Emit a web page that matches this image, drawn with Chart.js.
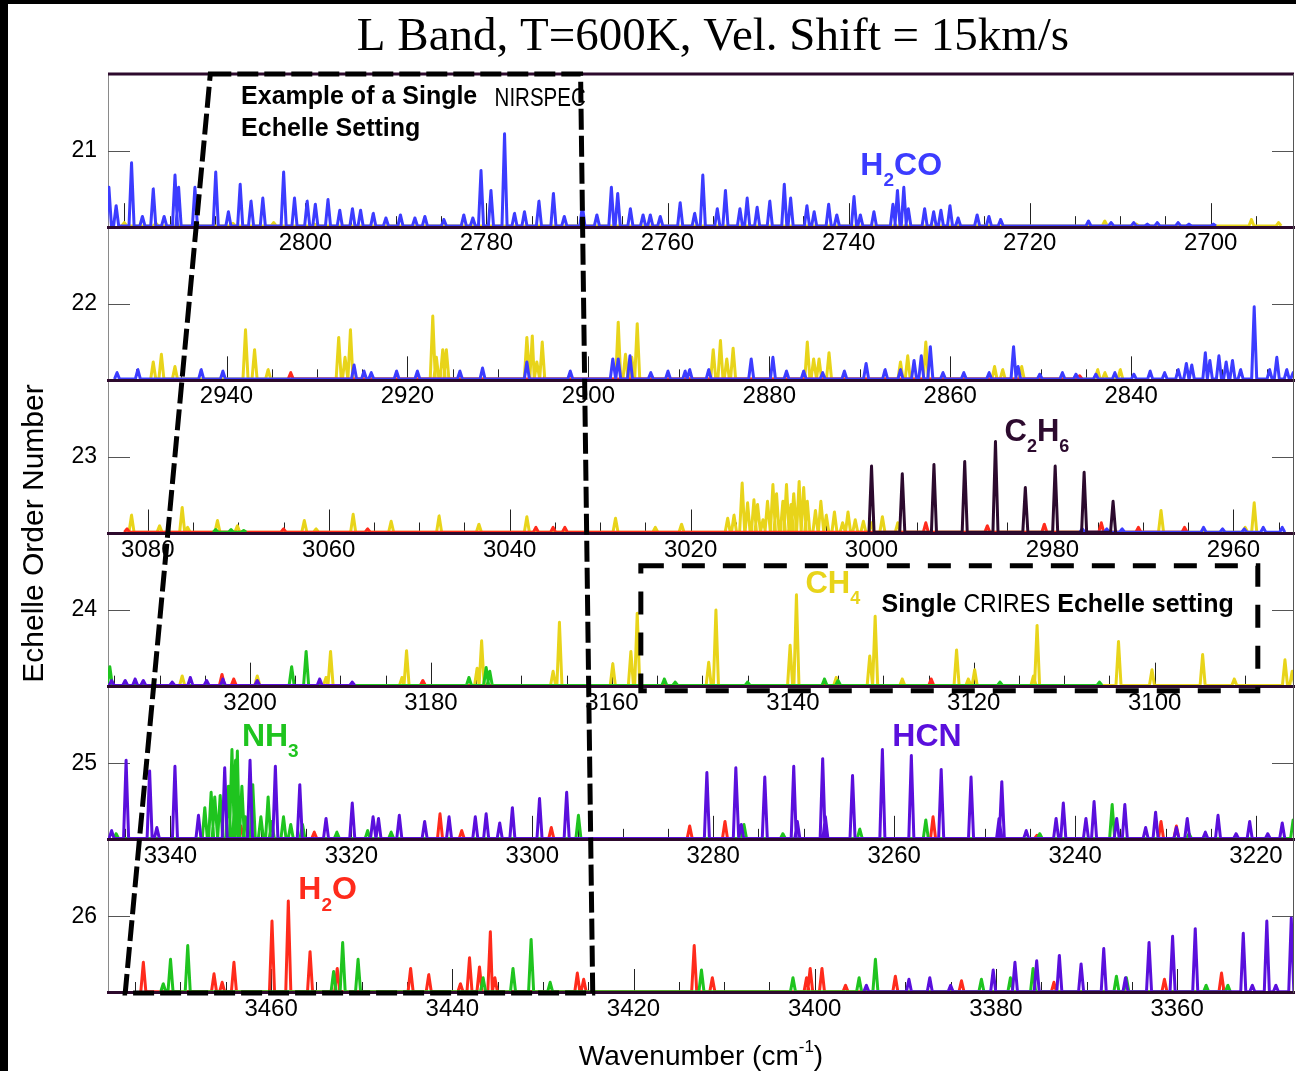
<!DOCTYPE html>
<html>
<head>
<meta charset="utf-8">
<title>L Band echelle orders</title>
<script src="https://cdn.jsdelivr.net/npm/chart.js@4.4.1/dist/chart.umd.min.js"></script>
<style>
  html, body { margin: 0; padding: 0; background: #fff; }
  #echelleCanvas { display: block; }
</style>
</head>
<body>
<canvas id="echelleCanvas" width="1296" height="1071"></canvas>
<script>
// echelle orders, top to bottom, and the wavenumber span (cm-1) each one covers
const orders = [21, 22, 23, 24, 25, 26];
const orderRanges = [[2690.8, 2821.8], [2822.0, 2953.1], [2953.3, 3084.4], [3084.6, 3215.7], [3215.8, 3346.9], [3347.1, 3478.0]];
const minorStep = 5;
const labelStep = 20;

// line peaks: [wavenumber, height as a fraction of the order panel]
// order 21
const h2co21 = [[2821.7,.26],[2820.9,.14],[2819.2,.42],[2818.0,.07],[2816.8,.25],[2815.6,.07],[2814.4,.34],[2814.0,.26],[2812.2,.26],[2809.9,.36],[2808.5,.10],[2807.2,.28],[2806.0,.17],[2804.7,.19],[2802.4,.36],[2801.2,.19],[2799.8,.17],[2798.9,.15],[2797.5,.18],[2796.2,.11],[2794.8,.12],[2793.9,.11],[2792.5,.09],[2791.1,.06],[2789.5,.08],[2787.9,.06],[2786.8,.07],[2784.7,.05],[2782.5,.08],[2781.5,.06],[2780.6,.37],[2779.5,.24],[2778.0,.61],[2776.9,.09],[2775.8,.10],[2774.2,.17],[2772.6,.22],[2771.4,.07],[2769.4,.14],[2767.8,.08],[2766.2,.26],[2765.5,.22],[2764.1,.12],[2762.7,.08],[2761.9,.08],[2760.8,.07],[2758.6,.16],[2757.0,.09],[2756.1,.34],[2754.5,.12],[2753.6,.24],[2752.0,.12],[2751.2,.19],[2750.1,.13],[2748.7,.17],[2747.1,.28],[2746.4,.19],[2744.6,.14],[2743.8,.10],[2742.2,.15],[2741.3,.08],[2739.4,.20],[2738.7,.08],[2737.2,.10],[2735.1,.15],[2734.6,.24],[2733.9,.26],[2733.4,.12],[2731.6,.12],[2730.6,.10],[2729.8,.11],[2728.8,.14],[2727.9,.06],[2725.8,.08],[2724.5,.07],[2723.2,.05],[2713.5,.04],[2711.0,.03],[2708.5,.03],[2707.0,.02],[2705.9,.03],[2703.6,.03],[2702.4,.02],[2699.7,.02]];
const ch4_21 = [[2820.0,.03],[2816.5,.025],[2812.0,.03],[2808.0,.025],[2803.5,.03],[2799.0,.02],[2711.7,.04],[2708.2,.02],[2695.5,.05],[2692.5,.03]];

// order 22
const h2co22 = [[2952.1,.05],[2949.8,.07],[2942.8,.07],[2940.4,.06],[2925.9,.10],[2924.8,.06],[2924.0,.05],[2921.2,.06],[2918.9,.06],[2914.2,.06],[2911.7,.08],[2906.8,.12],[2902.0,.06],[2897.3,.14],[2896.7,.14],[2895.4,.16],[2893.1,.05],[2891.2,.06],[2889.3,.06],[2888.8,.07],[2886.7,.07],[2882.0,.14],[2879.6,.15],[2878.1,.06],[2876.2,.06],[2874.1,.05],[2871.7,.06],[2869.3,.11],[2867.2,.07],[2865.5,.07],[2864.0,.13],[2863.2,.16],[2862.2,.22],[2860.8,.05],[2858.5,.05],[2855.7,.05],[2853.0,.22],[2852.5,.09],[2850.1,.04],[2847.6,.05],[2846.1,.04],[2843.9,.04],[2841.8,.05],[2839.7,.04],[2837.9,.06],[2836.3,.05],[2834.8,.07],[2833.9,.11],[2833.3,.10],[2831.8,.18],[2831.3,.13],[2830.3,.16],[2829.5,.12],[2828.8,.13],[2827.9,.07],[2826.4,.48],[2824.7,.07],[2823.9,.15],[2822.8,.07],[2822.1,.05]];
const ch4_22 = [[2948.1,.12],[2947.2,.17],[2945.7,.09],[2937.9,.33],[2936.9,.20],[2935.4,.07],[2927.6,.28],[2926.9,.15],[2926.3,.33],[2917.2,.42],[2916.8,.15],[2916.1,.20],[2915.7,.20],[2906.8,.28],[2906.2,.29],[2905.7,.12],[2905.1,.25],[2896.7,.38],[2895.9,.17],[2895.2,.15],[2894.6,.37],[2886.2,.20],[2885.4,.26],[2884.7,.14],[2884.0,.21],[2875.8,.25],[2875.1,.14],[2874.5,.14],[2873.4,.18],[2865.5,.12],[2864.7,.16],[2862.7,.25],[2855.1,.09],[2854.2,.07],[2852.1,.09],[2843.7,.07],[2842.9,.05],[2841.2,.07]];
const h2o22 = [[2932.9,.05],[2845.7,.03]];

// order 23
const ch4_23 = [[3081.8,.12],[3078.7,.05],[3076.2,.17],[3075.6,.04],[3072.3,.085],[3070.1,.05],[3062.7,.085],[3061.4,.03],[3057.3,.125],[3053.1,.08],[3047.8,.115],[3043.4,.06],[3038.1,.11],[3028.3,.10],[3023.9,.04],[3021.0,.06],[3015.9,.10],[3015.2,.12],[3014.3,.33],[3013.7,.20],[3013.0,.22],[3012.6,.19],[3012.0,.09],[3011.5,.21],[3010.9,.32],[3010.5,.26],[3009.8,.21],[3009.4,.32],[3008.9,.19],[3008.6,.26],[3008.0,.34],[3007.5,.30],[3007.1,.21],[3006.2,.15],[3005.6,.21],[3005.0,.12],[3004.1,.14],[3003.2,.07],[3002.6,.14],[3001.8,.09],[3000.9,.08],[3000.0,.07],[2998.8,.11],[2997.1,.07],[2968.0,.15],[2958.7,.04],[2957.7,.20]];
const c2h6_23 = [[3000.0,.44],[2996.6,.39],[2993.1,.45],[2989.7,.47],[2986.3,.60],[2983.0,.30],[2979.7,.44],[2976.5,.40],[2973.3,.21]];
const h2o23 = [[3082.3,.03],[3065.0,.03],[3055.7,.03],[3037.1,.04],[3035.2,.04],[3033.9,.04],[2994.0,.07],[2987.2,.05],[2980.9,.06],[2974.6,.07],[2970.5,.04],[2965.4,.04]];
const h2co23 = [[2976.7,.03],[2974.0,.03],[2972.3,.03],[2963.3,.04],[2961.2,.03],[2958.8,.03],[2956.7,.04],[2954.6,.04]];
const nh3_23 = [[3072.5,.025],[3070.8,.025],[3069.4,.02]];

// order 24
const ch4_24 = [[3207.5,.07],[3199.2,.07],[3191.6,.06],[3191.1,.23],[3183.2,.06],[3182.7,.235],[3174.9,.12],[3174.4,.30],[3166.5,.10],[3165.8,.42],[3159.9,.15],[3157.9,.23],[3157.2,.48],[3149.3,.16],[3148.5,.50],[3140.3,.27],[3139.6,.60],[3135.2,.06],[3131.5,.20],[3130.9,.46],[3127.9,.05],[3121.9,.24],[3120.6,.05],[3119.9,.11],[3113.4,.07],[3113.0,.40],[3104.0,.295],[3100.3,.11],[3094.7,.21],[3091.2,.05],[3085.6,.175],[3084.8,.10]];
const nh3_24 = [[3215.5,.13],[3195.4,.13],[3193.8,.23],[3175.8,.06],[3173.9,.125],[3173.5,.10],[3154.2,.05],[3153.0,.03],[3145.0,.03],[3136.5,.05],[3135.0,.04],[3117.1,.03],[3106.1,.03]];
const hcn24 = [[3215.3,.04],[3213.8,.04],[3212.7,.05],[3211.8,.04],[3208.6,.03],[3206.6,.06],[3204.8,.04],[3203.0,.05],[3199.2,.04],[3192.3,.05],[3188.7,.03]];
const h2o24 = [[3203.1,.08],[3201.8,.05],[3180.9,.04],[3124.7,.05]];

// order 25
const hcn25 = [[3346.5,.06],[3344.9,.52],[3342.3,.45],[3341.5,.08],[3339.5,.48],[3336.9,.16],[3334.0,.47],[3331.2,.52],[3328.4,.48],[3325.7,.36],[3322.8,.14],[3319.9,.24],[3317.6,.15],[3317.0,.14],[3314.7,.16],[3311.9,.12],[3309.2,.15],[3306.3,.15],[3305.1,.17],[3303.6,.11],[3302.2,.21],[3299.2,.27],[3296.2,.31],[3280.7,.44],[3277.5,.47],[3276.9,.10],[3274.3,.41],[3271.1,.48],[3270.7,.12],[3267.9,.53],[3267.6,.15],[3264.6,.42],[3261.3,.59],[3258.1,.55],[3254.8,.46],[3251.5,.41],[3248.4,.14],[3248.1,.38],[3245.4,.06],[3242.1,.14],[3241.3,.24],[3238.8,.14],[3237.9,.25],[3235.4,.14],[3234.5,.23],[3232.2,.08],[3231.1,.18],[3228.8,.08],[3227.6,.14],[3225.6,.05],[3224.2,.16],[3222.2,.04],[3220.7,.12],[3218.7,.04],[3217.1,.11]];
const nh3_25 = [[3346.0,.04],[3336.2,.21],[3335.5,.31],[3335.1,.28],[3334.5,.29],[3333.6,.35],[3333.2,.59],[3332.8,.52],[3332.6,.58],[3332.1,.35],[3331.7,.15],[3330.9,.36],[3330.0,.15],[3329.2,.28],[3328.8,.12],[3327.5,.15],[3326.7,.10],[3325.4,.10],[3321.6,.05],[3318.2,.06],[3315.6,.05],[3294.9,.16],[3276.6,.10],[3272.3,.04],[3263.8,.07],[3256.5,.13],[3243.9,.04],[3235.9,.23],[3227.4,.04],[3215.9,.13]];
const h2o25 = [[3332.2,.09],[3324.1,.05],[3310.2,.17],[3307.8,.06],[3297.9,.08],[3282.6,.09],[3278.7,.12],[3255.7,.15],[3244.2,.03],[3230.5,.12],[3228.8,.09]];

// order 26
const h2o26 = [[3474.1,.20],[3466.3,.125],[3465.4,.07],[3464.1,.20],[3459.9,.47],[3458.1,.60],[3455.7,.27],[3452.7,.16],[3444.6,.16],[3442.6,.12],[3439.1,.06],[3438.1,.23],[3437.0,.17],[3435.8,.40],[3435.3,.10],[3426.2,.13],[3425.5,.09],[3413.3,.31],[3411.3,.10],[3400.9,.10],[3400.5,.16],[3399.2,.16],[3396.6,.05],[3391.1,.11],[3383.8,.08],[3373.6,.07],[3361.4,.09],[3355.1,.13]];
const nh3_26 = [[3471.9,.06],[3471.1,.22],[3469.2,.31],[3453.1,.14],[3452.1,.33],[3450.4,.22],[3436.6,.10],[3433.3,.16],[3431.3,.35],[3429.2,.07],[3412.5,.15],[3402.4,.10],[3395.1,.10],[3393.3,.22],[3381.6,.09],[3378.4,.10],[3375.9,.16],[3366.7,.11],[3365.6,.10],[3356.8,.05],[3354.4,.05]];
const hcn26 = [[3394.3,.05],[3389.6,.09],[3387.3,.10],[3385.0,.05],[3380.3,.15],[3377.9,.20],[3375.5,.21],[3373.0,.245],[3370.6,.19],[3368.1,.29],[3365.7,.10],[3363.1,.33],[3360.5,.37],[3358.0,.42],[3352.7,.39],[3351.7,.05],[3350.1,.47],[3349.1,.05],[3347.4,.49]];

const series = [
  [21, 'CH4', ch4_21], [21, 'H2CO', h2co21],
  [22, 'CH4', ch4_22], [22, 'H2O', h2o22], [22, 'H2CO', h2co22],
  [23, 'CH4', ch4_23], [23, 'NH3', nh3_23], [23, 'H2O', h2o23], [23, 'H2CO', h2co23], [23, 'C2H6', c2h6_23],
  [24, 'CH4', ch4_24], [24, 'NH3', nh3_24], [24, 'H2O', h2o24], [24, 'HCN', hcn24],
  [25, 'NH3', nh3_25], [25, 'H2O', h2o25], [25, 'HCN', hcn25],
  [26, 'NH3', nh3_26], [26, 'H2O', h2o26], [26, 'HCN', hcn26]
];

const molColors = {H2CO: '#3c3cff', CH4: '#e8d41a', C2H6: '#2c0a2e', NH3: '#1fc41f', HCN: '#5a0fdc', H2O: '#ff2b1c'};
const molRank = {C2H6: 1, HCN: 2, H2CO: 3, NH3: 4, H2O: 5, CH4: 6};
const lineDark = '#2d0a2d';
const SANS = '"Liberation Sans", Arial, Helvetica, sans-serif';

// dashed outlines: [order, wavenumber, panel fraction]
const nirspecCorners = [[21, 2810.5, 1], [21, 2769.6, 1], [26, 3424.5, 0], [26, 3476.1, 0]];
const crinesCorners = [[24, 3156.8, 0.79], [24, 3088.6, -0.026]];

// text notes anchored in the order panels; runs: [text, font, dy, horizontal squeeze]
const notes = [
  {ord: 21, wn: 2807.1, frac: 0.85, color: '#000', runs: [['Example of a Single', 'bold 25px']]},
  {ord: 21, wn: 2779.1, frac: 0.835, color: '#000', runs: [['NIRSPEC', '25px', 0, 0.82]]},
  {ord: 21, wn: 2807.1, frac: 0.64, color: '#000', runs: [['Echelle Setting', 'bold 25px']]},
  {ord: 21, wn: 2738.7, frac: 0.40, color: molColors.H2CO, runs: [['H', 'bold 32px'], ['2', 'bold 19px', 15], ['CO', 'bold 32px']]},
  {ord: 23, wn: 2985.3, frac: 0.66, color: molColors.C2H6, runs: [['C', 'bold 31px'], ['2', 'bold 18px', 15], ['H', 'bold 31px'], ['6', 'bold 18px', 15]]},
  {ord: 24, wn: 3138.6, frac: 0.67, color: molColors.CH4, runs: [['CH', 'bold 31px'], ['4', 'bold 18px', 15]]},
  {ord: 24, wn: 3130.2, frac: 0.53, color: '#000', runs: [['Single ', 'bold 25px'], ['CRIRES', '25px', 0, 0.92], [' Echelle setting', 'bold 25px']]},
  {ord: 25, wn: 3332.1, frac: 0.67, color: molColors.NH3, runs: [['NH', 'bold 32px'], ['3', 'bold 19px', 15]]},
  {ord: 25, wn: 3260.2, frac: 0.67, color: molColors.HCN, runs: [['HCN', 'bold 32px']]},
  {ord: 26, wn: 3457.0, frac: 0.67, color: molColors.H2O, runs: [['H', 'bold 32px'], ['2', 'bold 19px', 15], ['O', 'bold 32px']]}
];

const FOOT = 0.28;   // half width of a line at its base, cm-1
const FLOOR = 0.008; // noise floor of the model spectra
const EDGE_GAP = 3;  // no label this close (cm-1) to the end of an order

function lineProfile(peaks) {
  const pts = [];
  peaks.slice().sort((a, b) => a[0] - b[0]).forEach(p => {
    pts.push({x: p[0] - FOOT, y: FLOOR}, {x: p[0], y: p[1]}, {x: p[0] + FOOT, y: FLOOR});
  });
  return pts;
}

const datasets = series.map(([ord, mol, peaks]) => ({
  label: mol + ' order ' + ord,
  data: lineProfile(peaks),
  xAxisID: 'x' + ord,
  yAxisID: 'y' + ord,
  borderColor: molColors[mol],
  borderWidth: 3,
  borderJoinStyle: 'round',
  pointRadius: 0,
  tension: 0,
  fill: false,
  order: molRank[mol]
}));

const scales = {};
orders.forEach((ord, i) => {
  scales['y' + ord] = {
    type: 'linear', axis: 'y', position: 'left', stack: 'orders', weight: orders.length - i,
    min: 0, max: 1,
    afterBuildTicks: axis => { axis.ticks = [{value: 0.5}]; },
    afterFit: axis => { axis.width = 108; },
    ticks: {callback: () => String(ord), color: '#000', font: {family: SANS, size: 23}, padding: 11},
    grid: {display: false, drawTicks: false},
    border: {display: true, color: '#8a8a8a', width: 1}
  };
  scales['x' + ord] = {
    type: 'linear', axis: 'x', position: {['y' + ord]: 0}, reverse: true,
    min: orderRanges[i][0], max: orderRanges[i][1],
    afterBuildTicks: axis => {
      axis.ticks = axis.ticks.filter(t => Math.abs(t.value / minorStep - Math.round(t.value / minorStep)) < 1e-6);
    },
    ticks: {
      stepSize: minorStep, includeBounds: false, autoSkip: false, maxRotation: 0, minRotation: 0, padding: 2,
      color: '#000', font: {family: SANS, size: 24},
      callback: function (v) {
        if (v - this.min < EDGE_GAP || this.max - v < EDGE_GAP) return '';
        return Math.abs(v % labelStep) < 1e-6 ? String(Math.round(v)) : '';
      }
    },
    grid: {display: false, drawTicks: false},
    border: {display: true, color: lineDark, width: 3, z: 1}
  };
});

function drawRuns(ctx, x, y, runs, color) {
  ctx.fillStyle = color;
  ctx.textBaseline = 'middle';
  ctx.textAlign = 'left';
  runs.forEach(([text, font, dy, squeeze]) => {
    const sx = squeeze || 1;
    ctx.font = font + ' ' + SANS;
    ctx.save();
    ctx.translate(x, y + (dy || 0));
    ctx.scale(sx, 1);
    ctx.fillText(text, 0, 0);
    ctx.restore();
    x += ctx.measureText(text).width * sx;
  });
}

const frameAndNotes = {
  id: 'frameAndNotes',
  beforeDatasetsDraw(chart) {
    const ctx = chart.ctx;
    ctx.save();
    ctx.lineWidth = 1;
    orders.forEach(ord => {
      const xs = chart.scales['x' + ord];
      const ys = chart.scales['y' + ord];
      const base = ys.getPixelForValue(0);
      ctx.strokeStyle = '#222';
      xs.ticks.forEach(t => {
        const px = Math.round(xs.getPixelForValue(t.value)) + 0.5;
        const len = Math.abs(t.value % labelStep) < 1e-6 ? 24 : 11;
        ctx.beginPath();
        ctx.moveTo(px, base);
        ctx.lineTo(px, base - len);
        ctx.stroke();
      });
      const mid = Math.round(ys.getPixelForValue(0.5)) + 0.5;
      ctx.strokeStyle = '#555';
      ctx.beginPath();
      ctx.moveTo(chart.chartArea.left, mid);
      ctx.lineTo(chart.chartArea.left + 22, mid);
      ctx.moveTo(chart.chartArea.right - 22, mid);
      ctx.lineTo(chart.chartArea.right, mid);
      ctx.stroke();
    });
    ctx.restore();
  },
  afterDraw(chart) {
    const ctx = chart.ctx;
    const area = chart.chartArea;
    const at = (ord, wn, frac) => [chart.scales['x' + ord].getPixelForValue(wn), chart.scales['y' + ord].getPixelForValue(frac)];
    ctx.save();

    // frame: top rule of order 21 and the right edge
    ctx.strokeStyle = lineDark;
    ctx.lineWidth = 3;
    ctx.beginPath();
    ctx.moveTo(area.left, area.top);
    ctx.lineTo(area.right, area.top);
    ctx.stroke();
    ctx.strokeStyle = '#555';
    ctx.lineWidth = 1;
    ctx.beginPath();
    ctx.moveTo(area.right - 0.5, area.top);
    ctx.lineTo(area.right - 0.5, area.bottom);
    ctx.stroke();

    // single NIRSPEC setting (parallelogram) and single CRIRES setting (box)
    ctx.strokeStyle = '#000';
    ctx.lineWidth = 5;
    ctx.setLineDash([21, 6]);
    ctx.beginPath();
    nirspecCorners.forEach((c, i) => {
      const [x, y] = at(...c);
      if (i) ctx.lineTo(x, y); else ctx.moveTo(x, y);
    });
    ctx.closePath();
    ctx.stroke();
    ctx.setLineDash([23, 18]);
    const [bx0, by0] = at(...crinesCorners[0]);
    const [bx1, by1] = at(...crinesCorners[1]);
    ctx.strokeRect(bx0, by0, bx1 - bx0, by1 - by0);
    ctx.setLineDash([]);

    notes.forEach(n => {
      const [x, y] = at(n.ord, n.wn, n.frac);
      drawRuns(ctx, x, y, n.runs, n.color);
    });

    // title
    ctx.fillStyle = '#000';
    ctx.textAlign = 'center';
    ctx.textBaseline = 'middle';
    ctx.font = '47px "Liberation Serif", "Times New Roman", serif';
    ctx.fillText('L Band, T=600K, Vel. Shift = 15km/s', 713, 38);

    // x axis title with superscript
    const xMain = 'Wavenumber (cm';
    ctx.font = '28px ' + SANS;
    const w1 = ctx.measureText(xMain).width;
    ctx.font = '17px ' + SANS;
    const w2 = ctx.measureText('-1').width;
    ctx.font = '28px ' + SANS;
    const w3 = ctx.measureText(')').width;
    const tx = (area.left + area.right) / 2 - (w1 + w2 + w3) / 2;
    ctx.textAlign = 'left';
    ctx.fillText(xMain, tx, 1057);
    ctx.font = '17px ' + SANS;
    ctx.fillText('-1', tx + w1, 1047);
    ctx.font = '28px ' + SANS;
    ctx.fillText(')', tx + w1 + w2, 1057);

    // y axis title
    ctx.save();
    ctx.translate(35, (area.top + area.bottom) / 2);
    ctx.rotate(-Math.PI / 2);
    ctx.textAlign = 'center';
    ctx.font = '30px ' + SANS;
    ctx.fillText('Echelle Order Number', 0, 0);
    ctx.restore();

    // black edges of the original figure
    ctx.fillStyle = '#000';
    ctx.fillRect(0, 0, 8, chart.height);
    ctx.fillRect(0, 0, chart.width, 4);
    ctx.restore();
  }
};

window.onload = function () {
  const ctx = document.getElementById('echelleCanvas').getContext('2d');
  window.echelleChart = new Chart(ctx, {
    type: 'line',
    data: {datasets: datasets},
    options: {
      responsive: false,
      animation: false,
      devicePixelRatio: 1,
      layout: {padding: {top: 74, right: 2, bottom: 78, left: 0}},
      plugins: {legend: {display: false}, tooltip: {enabled: false}, title: {display: false}},
      scales: scales
    },
    plugins: [frameAndNotes]
  });
};
</script>
</body>
</html>
